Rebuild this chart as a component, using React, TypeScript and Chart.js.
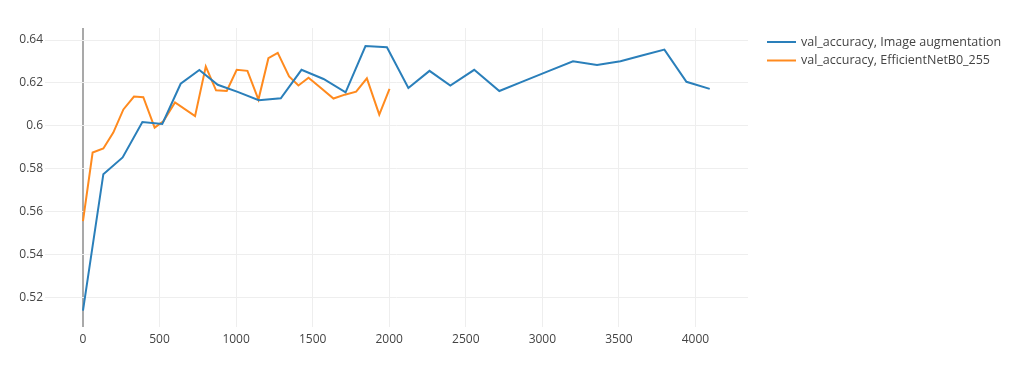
import React, { useEffect, useRef } from "react";
import { Chart, registerables } from "chart.js";

Chart.register(...registerables);

const seriesNames = ["val_accuracy, Image augmentation", "val_accuracy, EfficientNetB0_255"];
const seriesColors = ["#2a7fba", "#ff8a1e"];

const augSteps = [0, 133, 259, 388, 518, 638, 760, 880, 1010, 1148, 1292, 1427, 1571, 1715, 1845, 1985, 2125, 2263, 2399, 2555, 2719, 2870, 3040, 3200, 3357, 3510, 3650, 3797, 3941, 4093];
const augValues = [0.5137, 0.5774, 0.5852, 0.6017, 0.6008, 0.6196, 0.626, 0.6191, 0.6158, 0.6119, 0.6128, 0.6261, 0.6218, 0.6156, 0.6372, 0.6366, 0.6176, 0.6256, 0.6187, 0.6261, 0.6162, 0.6206, 0.6255, 0.6301, 0.6283, 0.6301, 0.6328, 0.6355, 0.6205, 0.6172];

const effSteps = [0, 63, 133, 198, 264, 333, 394, 468, 525, 601, 732, 802, 869, 939, 1004, 1074, 1146, 1211, 1272, 1346, 1407, 1473, 1550, 1636, 1710, 1784, 1854, 1935, 2002];
const effValues = [0.5555, 0.5875, 0.5894, 0.5968, 0.6076, 0.6136, 0.6133, 0.5991, 0.6021, 0.6109, 0.6045, 0.6276, 0.6165, 0.6162, 0.6261, 0.6256, 0.6122, 0.6315, 0.634, 0.623, 0.6188, 0.6224, 0.6178, 0.6127, 0.6145, 0.6159, 0.6221, 0.6052, 0.6172];

const xTicks = [0, 500, 1000, 1500, 2000, 2500, 3000, 3500, 4000];
const yTicks = [0.52, 0.54, 0.56, 0.58, 0.6, 0.62, 0.64];

const FONT = '"Open Sans", "Noto Sans", sans-serif';

const legendPlugin = {
  id: "plotlyLegend",
  afterDraw(chart: any) {
    const ctx = chart.ctx;
    ctx.save();
    chart.data.datasets.forEach((ds: any, i: number) => {
      const y = 42 + i * 18.5;
      ctx.strokeStyle = ds.borderColor;
      ctx.lineWidth = 2;
      ctx.beginPath();
      ctx.moveTo(767, y);
      ctx.lineTo(796, y);
      ctx.stroke();
      ctx.fillStyle = "#444";
      ctx.font = `12.5px ${FONT}`;
      ctx.textAlign = "left";
      ctx.textBaseline = "middle";
      ctx.fillText(ds.label, 801, y);
    });
    ctx.restore();
  },
};

export default function App() {
  const ref = useRef<HTMLCanvasElement | null>(null);
  useEffect(() => {
    if (!ref.current) return;
    const mk = (xs: number[], ys: number[]) => xs.map((x, i) => ({ x, y: ys[i] }));
    const chart = new Chart(ref.current, {
      type: "line",
      data: {
        datasets: [
          {
            label: seriesNames[0],
            data: mk(augSteps, augValues),
            borderColor: seriesColors[0],
            backgroundColor: seriesColors[0],
            borderWidth: 2,
            pointRadius: 0,
            tension: 0,
          },
          {
            label: seriesNames[1],
            data: mk(effSteps, effValues),
            borderColor: seriesColors[1],
            backgroundColor: seriesColors[1],
            borderWidth: 2,
            pointRadius: 0,
            tension: 0,
          },
        ],
      },
      options: {
        animation: false,
        responsive: false,
        devicePixelRatio: 1,
        layout: { padding: { top: 28, right: 276, left: 0, bottom: 0 } },
        plugins: { legend: { display: false }, tooltip: { enabled: false } },
        scales: {
          x: {
            type: "linear",
            min: -248,
            max: 4343,
            afterBuildTicks: (s: any) => {
              s.ticks = xTicks.map((v) => ({ value: v }));
            },
            afterFit: (s: any) => {
              s.height = 41;
            },
            border: { display: false },
            grid: {
              drawTicks: false,
              color: (c: any) => (c.tick && c.tick.value === 0 ? "#a9a9a9" : "#eeeeee"),
              lineWidth: (c: any) => (c.tick && c.tick.value === 0 ? 2 : 1),
            },
            ticks: {
              padding: 5,
              color: "#444",
              font: { family: FONT, size: 12 },
              maxRotation: 0,
              callback: (v: any) => String(v),
            },
          },
          y: {
            type: "linear",
            min: 0.5061,
            max: 0.6456,
            afterBuildTicks: (s: any) => {
              s.ticks = yTicks.map((v) => ({ value: v }));
            },
            afterFit: (s: any) => {
              s.width = 45;
            },
            border: { display: false },
            grid: { drawTicks: false, color: "#eeeeee", lineWidth: 1 },
            ticks: {
              padding: 2,
              color: "#444",
              font: { family: FONT, size: 12 },
              callback: (v: any) => String(+Number(v).toFixed(2)),
            },
          },
        },
      },
      plugins: [legendPlugin],
    });
    return () => chart.destroy();
  }, []);
  return (
    <div style={{ position: "fixed", left: 0, top: 0, width: 1024, height: 368, background: "#fff" }}>
      <canvas ref={ref} width={1024} height={368} />
    </div>
  );
}
